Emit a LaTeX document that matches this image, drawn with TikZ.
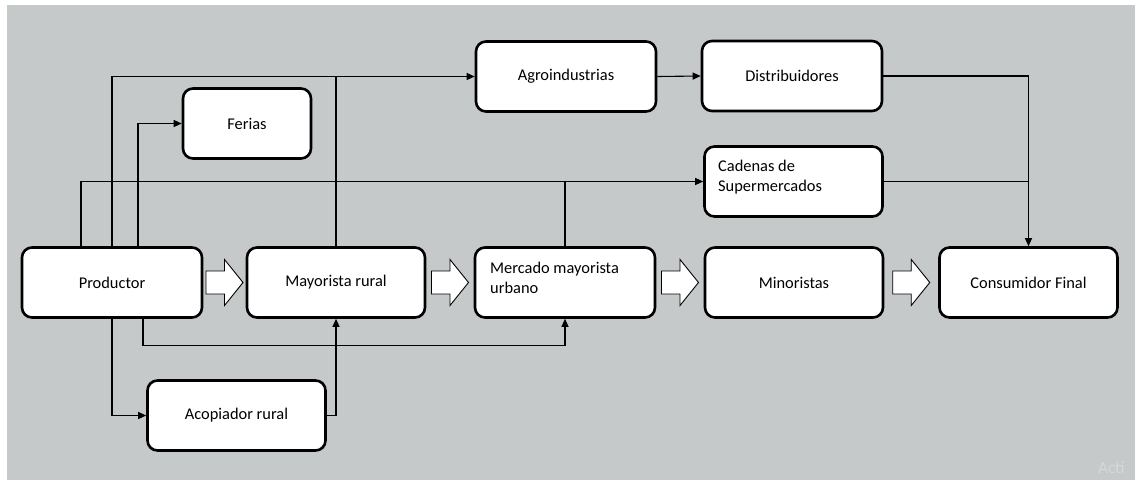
\documentclass[tikz,border=0pt]{standalone}
\usepackage{fontspec}
\setmainfont{Carlito}
\usetikzlibrary{arrows.meta,calc}
\definecolor{bggray}{RGB}{197,201,202}
\definecolor{wmgray}{RGB}{214,217,218}
\tikzset{
  box/.style={draw=black, line width=2.6pt, rounded corners=10pt, fill=white,
    minimum width=178pt, minimum height=70pt, inner sep=0pt,
    font=\fontsize{16.4}{20}\selectfont},
  conn/.style={draw=black, line width=1.1pt},
  arr/.style={conn, -{Triangle[length=8pt,width=7pt]}},
  barrow/.style={draw=black, line width=0.9pt, fill=white, line join=miter},
  blockarr/.pic={\path[barrow] (-18.5,-11.5) -- (0,-11.5) -- (0,-23) -- (18.5,0) -- (0,23) -- (0,11.5) -- (-18.5,11.5) -- cycle;}
}
\begin{document}
\begin{tikzpicture}[x=1pt,y=-1pt]
\useasboundingbox (0,0) rectangle (1135,480);
\fill[white] (0,0) rectangle (1135,480);
\fill[bggray] (7,5) rectangle (1135,480);
\node[text=wmgray, font=\fontsize{17}{20}\selectfont, anchor=south west, inner sep=0pt] (wm) at (1098,474) {Acti};

% main row
\node[box, minimum width=180pt] (prod) at (112,282.5) {Productor};
\node[box] (mayr) at (336,282.5) {Mayorista rural};
\node[box, minimum width=180pt] (merc) at (565,282.5) {};
\node[font=\fontsize{16.4}{20}\selectfont, align=left, anchor=west, inner sep=0pt] (merct) at (490,278) {Mercado mayorista\\urbano};
\node[box] (mino) at (794,282.5) {Minoristas};
\node[box] (cons) at (1028.5,282.5) {Consumidor Final};

% other boxes
\node[box] (acop) at (236.5,415.5) {Acopiador rural};
\node[box, minimum width=128pt] (feri) at (247,123.5) {Ferias};
\node[box, minimum width=180pt] (agro) at (566,76.5) {Agroindustrias};
\node[box, minimum width=180pt] (dist) at (792,76) {Distribuidores};
\node[box] (cade) at (793.5,181.5) {};
\node[font=\fontsize{16.4}{20}\selectfont, align=left, anchor=west, inner sep=0pt] (cadet) at (718,177) {Cadenas de\\Supermercados};

% block arrows
\pic at ($(prod.east)!0.5!(mayr.west)$) {blockarr};
\pic at ($(mayr.east)!0.5!(merc.west)$) {blockarr};
\pic at ($(merc.east)!0.5!(mino.west)$) {blockarr};
\pic at ($(mino.east)!0.5!(cons.west)$) {blockarr};

% connectors
\draw[arr] (prod.north) |- (agro.west);
\draw[conn] (mayr.north) -- (mayr.north |- agro.west);
\draw[arr] ([xshift=26pt]prod.north) |- (feri.west);
\draw[arr] ([xshift=-31pt]prod.north) |- (cade.west);
\draw[conn] (merc.north) -- (merc.north |- cade.west);
\draw[arr] (agro.east) -- (dist.west);
\draw[arr] (dist.east) -| (cons.north);
\draw[conn] (cade.east) -- (cade.east -| cons.north);
\draw[arr] (prod.south) |- (acop.west);
\draw[arr] (acop.east) -| (mayr.south);
\draw[arr] ([xshift=31pt]prod.south) -- ++(0,27) -| (merc.south);
\end{tikzpicture}
\end{document}
